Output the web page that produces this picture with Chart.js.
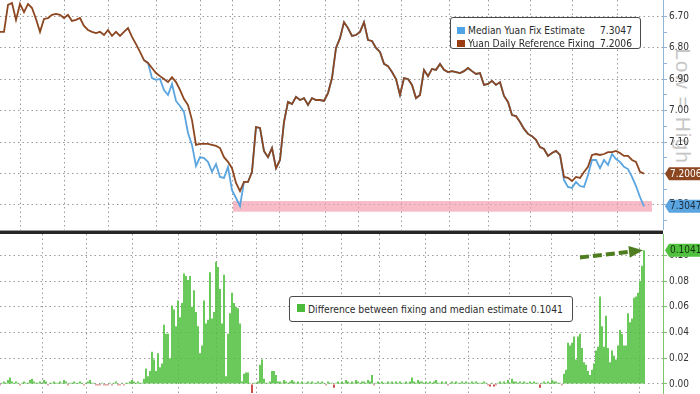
<!DOCTYPE html>
<html>
<head>
<meta charset="utf-8">
<script src="https://cdn.jsdelivr.net/npm/chart.js@4.4.0/dist/chart.umd.min.js"></script>
<style>
    html, body { margin: 0; padding: 0; background: #fff; }
    body {
        width: 700px; height: 394px; position: relative; overflow: hidden;
        font-family: "DejaVu Sans Condensed", "DejaVu Sans", sans-serif;
        font-stretch: condensed;
    }
    #watermark {
        position: absolute; left: 683px; top: 106px;
        transform: translate(-50%, -50%) rotate(90deg);
        font-family: "Liberation Sans", Arial, sans-serif; font-stretch: normal;
        color: #c6c6c6; font-size: 21px; letter-spacing: 1px; white-space: nowrap;
    }
    canvas { position: absolute; left: 0; }
    #topChart { top: 0; }
    #bottomChart { top: 234px; }
    .sep { position: absolute; left: 0; width: 663px; }
    .legend {
        position: absolute; box-sizing: border-box; background: #fff;
        border: 1px solid #4a4a4a; border-radius: 3px;
        font-size: 10px; color: #2b2b2b; line-height: 12px;
    }
    .legend .row { position: absolute; left: 0; right: 0; height: 12px; white-space: nowrap; }
    .legend .sw { position: absolute; top: 2px; width: 8px; height: 7px; }
    .legend .name { position: absolute; }
    .legend .val { position: absolute; right: 8px; }
</style>
</head>
<body>
<div id="watermark">Low = High</div>
<canvas id="topChart" width="700" height="230"></canvas>
<div class="sep" style="top:230px;height:1px;background:#9a9a9a"></div>
<div class="sep" style="top:231px;height:3px;background:#262626"></div>
<canvas id="bottomChart" width="700" height="160"></canvas>

<div class="legend" id="topLegend" style="left:450px;top:17px;width:191px;height:32px">
    <div class="row" style="top:7px">
        <span class="sw" style="left:6px;background:#4ea4e6"></span>
        <span class="name" id="lgEstimateName" style="left:17px">Median Yuan Fix Estimate</span>
        <span class="val" id="lgEstimate"></span>
    </div>
    <div class="row" style="top:20px">
        <span class="sw" style="left:6px;background:#9a3c14"></span>
        <span class="name" style="left:17px">Yuan Daily Reference Fixing</span>
        <span class="val" id="lgFixing"></span>
    </div>
</div>
<div class="legend" id="bottomLegend" style="left:289px;top:296px;width:284px;height:26px">
    <div class="row" style="top:6px">
        <span class="sw" style="left:7px;width:8px;height:8px;top:1px;background:#4cbb3c"></span>
        <span class="name" style="left:18px" id="lgDiff"></span>
    </div>
</div>

<script>
// ---- values ----
// x axis is in trading days, one day = 2px; gridlines at month starts
const monthStarts = [10, 32, 54, 78, 100, 116.5, 139.5, 162.5, 179, 200.5, 224.5, 244, 265, 286, 308.5];
const priceTicks = [6.70, 6.80, 6.90, 7.00, 7.10, 7.20, 7.30];
const diffTicks = [0.00, 0.02, 0.04, 0.06, 0.08, 0.10];
const lineStep = 2; // line samples every 2 trading days

const fixing = [
    6.749, 6.749, 6.663, 6.657, 6.711, 6.660, 6.686, 6.660, 6.673, 6.708,
    6.749, 6.708, 6.705, 6.695, 6.692, 6.695, 6.705, 6.695, 6.714, 6.711,
    6.705, 6.730, 6.743, 6.749, 6.753, 6.749, 6.759, 6.743, 6.762, 6.749,
    6.762, 6.749, 6.737, 6.765, 6.788, 6.813, 6.839, 6.848, 6.864, 6.880,
    6.890, 6.899, 6.909, 6.893, 6.909, 6.934, 6.963, 6.982, 7.030, 7.109,
    7.106, 7.106, 7.106, 7.109, 7.112, 7.119, 7.148, 7.163, 7.183, 7.230,
    7.256, 7.227, 7.227, 7.195, 7.052, 7.055, 7.128, 7.148, 7.119, 7.183,
    7.157, 7.036, 6.972, 6.979, 6.956, 6.966, 6.960, 6.982, 6.960, 6.966,
    6.966, 6.969, 6.944, 6.896, 6.800, 6.769, 6.718, 6.737, 6.762, 6.759,
    6.749, 6.718, 6.775, 6.778, 6.800, 6.813, 6.851, 6.858, 6.877, 6.899,
    6.950, 6.896, 6.899, 6.918, 6.960, 6.950, 6.870, 6.890, 6.867, 6.870,
    6.851, 6.870, 6.877, 6.874, 6.877, 6.880, 6.874, 6.864, 6.874, 6.883,
    6.880, 6.918, 6.915, 6.905, 6.918, 6.909, 6.953, 6.972, 7.014, 7.017,
    7.036, 7.058, 7.074, 7.081, 7.093, 7.116, 7.122, 7.144, 7.135, 7.128,
    7.141, 7.211, 7.214, 7.224, 7.211, 7.214, 7.195, 7.179, 7.141, 7.138,
    7.141, 7.138, 7.132, 7.132, 7.128, 7.135, 7.144, 7.144, 7.157, 7.163,
    7.195, 7.2006
];

const estimate = [
    null, null, null, null, null, null, null, null, null, null,
    null, null, null, null, null, null, null, null, null, null,
    null, null, null, null, null, null, null, null, null, null,
    null, null, null, null, null, null, 6.839, 6.848, 6.896, 6.902,
    6.899, 6.934, 6.950, 6.915, 6.969, 6.985, 7.004, 7.071, 7.109, 7.176,
    7.148, 7.151, 7.163, 7.195, 7.170, 7.211, 7.214, 7.179, 7.253, 7.278,
    7.304, 7.227, 7.227, 7.195, 7.052, 7.055, 7.130, 7.148, 7.119, 7.183,
    7.157, 7.036, 6.972, 6.979, 6.956, 6.966, 6.960, 6.982, 6.960, 6.966,
    6.966, 6.969, 6.944, 6.896, 6.800, 6.769, 6.718, 6.737, 6.762, 6.759,
    6.749, 6.718, 6.775, 6.778, 6.800, 6.813, 6.851, 6.858, 6.877, 6.899,
    6.950, 6.896, 6.899, 6.918, 6.960, 6.950, 6.870, 6.890, 6.867, 6.870,
    6.851, 6.870, 6.877, 6.874, 6.877, 6.880, 6.874, 6.864, 6.874, 6.883,
    6.880, 6.918, 6.915, 6.905, 6.918, 6.909, 6.953, 6.972, 7.014, 7.017,
    7.036, 7.058, 7.074, 7.081, 7.093, 7.116, 7.122, 7.144, 7.135, 7.128,
    7.141, 7.221, 7.243, 7.246, 7.227, 7.240, 7.243, 7.205, 7.157, 7.157,
    7.183, 7.157, 7.173, 7.138, 7.154, 7.163, 7.179, 7.186, 7.211, 7.240,
    7.275, 7.3047
];

// daily difference (estimate - fixing), one bar per trading day
const difference = [
    -0.001, 0.001, 0.002, 0.001, 0.003, 0.005, 0.002, 0.001, 0.002, 0.001,
    -0.001, 0.001, 0.002, 0.001, 0.001, 0.003, 0.004, 0.002, 0.001, 0.001,
    0.002, 0.001, 0.003, 0.002, -0.001, 0.001, 0.001, 0.002, 0.001, 0.001,
    0.002, 0.001, 0.003, 0.002, -0.001, 0.001, 0.001, 0.002, 0.001, 0.001,
    0.002, 0.001, -0.001, 0.001, 0.002, 0.003, 0.001, 0.001, -0.001, -0.001,
    -0.001, 0.001, -0.001, -0.001, -0.001, 0.001, -0.001, 0.001, 0.002, -0.001,
    -0.001, 0.001, -0.001, 0.001, 0.001, 0.002, 0.003, 0.002, 0.001, 0.002,
    0.001,
    0.001, 0.004, 0.012, 0.006, 0.010, 0.025, 0.019, 0.010, 0.024, 0.013,
    0.016, 0.046, 0.039, 0.039, 0.020, 0.061, 0.058, 0.045, 0.065, 0.052,
    0.063, 0.086, 0.084, 0.081, 0.084, 0.060, 0.073, 0.056, 0.045, 0.024,
    0.030, 0.065, 0.047, 0.050, 0.087, 0.051, 0.056, 0.095, 0.091, 0.074,
    0.047, 0.085, 0.006, 0.039, 0.055, 0.071, 0.063, 0.060, 0.059, 0.047,
    0.002, 0.008, 0.009, 0.009, 0.001, -0.007, 0.001, 0.001, 0.002, 0.015,
    0.019, 0.004, 0.001, 0.001, 0.002, 0.010, 0.010, 0.007, 0.002,
    0.002, 0.001, 0.003, 0.002, 0.001, 0.002, 0.003, 0.002, 0.001, 0.002,
    0.001, 0.002, 0.001, 0.001, 0.002, 0.001, 0.002, 0.001, 0.001, 0.002,
    0.001, 0.002, 0.001, -0.001, 0.002, 0.001, 0.001, -0.003, 0.001, 0.002,
    0.001, 0.002, 0.001, 0.003, 0.002, 0.001, 0.002, 0.001, 0.003, 0.002,
    0.001, 0.002, 0.002, 0.001, 0.003, 0.002, 0.007, -0.001, 0.001, 0.002,
    0.001, 0.002, 0.001, 0.001, 0.002, 0.001, 0.002, 0.001, 0.002, 0.001,
    0.002, 0.001, 0.001, 0.002, 0.001, 0.002, 0.005, 0.002, 0.001, 0.003,
    0.002, 0.002, 0.001, 0.002, 0.001, 0.002, 0.001, 0.002, 0.003, 0.001,
    0.001, 0.002, 0.001, 0.002, -0.001, 0.001, 0.002, 0.001, 0.002, 0.001,
    0.001, 0.002, 0.001, 0.002, 0.001, 0.001, 0.002, 0.001, 0.002, 0.001,
    0.001, 0.001, 0.002, 0.001, -0.001, -0.002, 0.001, -0.002, -0.001, 0.001,
    0.002, 0.001, 0.002, 0.001, 0.003, 0.001, 0.004, 0.002, 0.002, 0.001,
    0.002, 0.001, 0.002, 0.001, 0.001, 0.002, 0.001, 0.002, 0.001, 0.001,
    -0.003, 0.001, 0.002, 0.001, 0.002, 0.001, 0.003, 0.002,
    0.002, 0.001, 0.001, -0.001, 0.008, 0.011, 0.032, 0.030, 0.032, 0.037,
    0.019, 0.037, 0.039, 0.028, 0.017, 0.015, 0.010, 0.007, 0.011, 0.016,
    0.026, 0.029, 0.068, 0.045, 0.029, 0.053, 0.028, 0.017, 0.026, 0.022,
    0.019, 0.030, 0.042, 0.039, 0.030, 0.030, 0.055, 0.048, 0.051, 0.067,
    0.068, 0.071, 0.080, 0.092, 0.1041
];

const lastEstimate = 7.3047;
const lastFixing = 7.2006;
const lastDiff = 0.1041;

// pink band at the estimate level, and the green arrow in the lower panel
const bandFrom = 116.5, bandTo = 326, bandHalf = 0.017;
const arrowFrom = [290, 0.0985], arrowTo = [321.5, 0.1040];

// ---- colours ----
const BROWN = '#8c4620';
const BLUE = '#5aa5df';
const GREEN = '#50c03e';
const RED = '#c3302a';
const GRID = '#9a9a9a';
const FONT = '"DejaVu Sans Condensed", "DejaVu Sans", sans-serif';

document.getElementById('lgEstimate').textContent = lastEstimate.toFixed(4);
document.getElementById('lgFixing').textContent = lastFixing.toFixed(4);
document.getElementById('lgDiff').textContent =
    'Difference between fixing and median estimate ' + lastDiff.toFixed(4);

// size the legend font so the text runs as wide as in the reference
const fitLegend = (box, sample, target) => {
    const w = sample.getBoundingClientRect().width;
    const size = parseFloat(getComputedStyle(sample).fontSize);
    if (w > 0) box.style.fontSize = (size * target / w).toFixed(2) + 'px';
};
fitLegend(document.getElementById('topLegend'), document.getElementById('lgEstimateName'), 117);
fitLegend(document.getElementById('bottomLegend'), document.getElementById('lgDiff'), 255);

const near = (a, b) => Math.abs(a - b) < 1e-6;

const drawTag = (ctx, left, y, text, bg, fg) => {
    const h = 13, tip = 4;
    ctx.save();
    ctx.beginPath();
    ctx.moveTo(left, y);
    ctx.lineTo(left + tip, y - h / 2);
    ctx.lineTo(700, y - h / 2);
    ctx.lineTo(700, y + h / 2);
    ctx.lineTo(left + tip, y + h / 2);
    ctx.closePath();
    ctx.fillStyle = bg;
    ctx.fill();
    ctx.fillStyle = fg;
    ctx.font = '10px ' + FONT;
    ctx.textAlign = 'left';
    ctx.textBaseline = 'middle';
    ctx.fillText(text, left + tip + 1, y + 0.5);
    ctx.restore();
};

const noPadding = (scale) => {
    scale.paddingTop = 0;
    scale.paddingBottom = 0;
    scale.paddingLeft = 0;
    scale.paddingRight = 0;
};

const monthAxis = {
    type: 'linear',
    min: 0,
    max: 331.5,
    ticks: { display: false },
    grid: { color: GRID, lineWidth: 1, drawTicks: false },
    border: { display: false, dash: [1.5, 3] },
    afterBuildTicks: (scale) => { scale.ticks = monthStarts.map(v => ({ value: v })); },
    afterFit: (scale) => { scale.height = 0; noPadding(scale); }
};

const valueAxis = (majors, step, min, max, reverse, axisColor, digits) => ({
    type: 'linear',
    position: 'right',
    min: min,
    max: max,
    reverse: reverse,
    afterBuildTicks: (scale) => {
        const all = majors.concat(majors.map(v => v + step / 2))
            .filter(v => v > min && v < max)
            .sort((a, b) => a - b);
        scale.ticks = all.map(v => ({ value: v }));
    },
    afterFit: (scale) => { scale.width = 37; noPadding(scale); },
    ticks: {
        padding: 2,
        color: '#333',
        font: { family: FONT, size: 10 },
        callback: (v) => majors.some(t => near(t, v)) ? v.toFixed(digits) : ''
    },
    grid: {
        color: (c) => (c.tick && majors.some(t => near(t, c.tick.value))) ? GRID : 'rgba(0,0,0,0)',
        tickColor: axisColor,
        tickLength: 4,
        tickBorderDash: []
    },
    border: { display: true, color: axisColor, width: 1, dash: [1.5, 3] }
});

const topPlugin = {
    id: 'topExtras',
    beforeDatasetsDraw(chart) {
        const { ctx, scales: { x, y } } = chart;
        const x0 = x.getPixelForValue(bandFrom);
        const x1 = x.getPixelForValue(bandTo);
        const y0 = y.getPixelForValue(lastEstimate - bandHalf);
        const y1 = y.getPixelForValue(lastEstimate + bandHalf);
        ctx.save();
        ctx.fillStyle = 'rgba(244, 160, 175, 0.7)';
        ctx.fillRect(x0, Math.min(y0, y1), x1 - x0, Math.abs(y1 - y0));
        ctx.restore();
    },
    afterDraw(chart) {
        const { ctx, chartArea, scales: { y } } = chart;
        drawTag(ctx, chartArea.right + 2, y.getPixelForValue(lastFixing), lastFixing.toFixed(4), BROWN, '#fff');
        drawTag(ctx, chartArea.right + 2, y.getPixelForValue(lastEstimate), lastEstimate.toFixed(4), BLUE, '#1b2a3a');
    }
};

const bottomPlugin = {
    id: 'bottomExtras',
    afterDatasetsDraw(chart) {
        const { ctx, scales: { x, y } } = chart;
        const ax = x.getPixelForValue(arrowFrom[0]), ay = y.getPixelForValue(arrowFrom[1]);
        const tx = x.getPixelForValue(arrowTo[0]), ty = y.getPixelForValue(arrowTo[1]);
        const len = Math.hypot(tx - ax, ty - ay);
        const ux = (tx - ax) / len, uy = (ty - ay) / len;
        const head = 14, half = 6;
        const bx = tx - ux * head, by = ty - uy * head;
        ctx.save();
        ctx.strokeStyle = '#4d7d1e';
        ctx.fillStyle = '#4d7d1e';
        ctx.lineWidth = 4;
        ctx.setLineDash([9, 4]);
        ctx.beginPath();
        ctx.moveTo(ax, ay);
        ctx.lineTo(bx, by);
        ctx.stroke();
        ctx.setLineDash([]);
        ctx.beginPath();
        ctx.moveTo(tx, ty);
        ctx.lineTo(bx - uy * half, by + ux * half);
        ctx.lineTo(bx + uy * half, by - ux * half);
        ctx.closePath();
        ctx.fill();
        ctx.restore();
    },
    afterDraw(chart) {
        const { ctx, chartArea, scales: { y } } = chart;
        drawTag(ctx, chartArea.right + 2, y.getPixelForValue(lastDiff), lastDiff.toFixed(4), GREEN, '#12300c');
    }
};

new Chart(document.getElementById('topChart'), {
    type: 'line',
    data: {
        datasets: [{
            label: 'Yuan Daily Reference Fixing',
            data: fixing.map((v, i) => ({ x: i * lineStep, y: v })),
            borderColor: BROWN,
            borderWidth: 1.8,
            pointRadius: 0,
            tension: 0
        }, {
            label: 'Median Yuan Fix Estimate',
            data: estimate.map((v, i) => ({ x: i * lineStep, y: v })),
            borderColor: BLUE,
            borderWidth: 1.8,
            pointRadius: 0,
            tension: 0,
            spanGaps: false
        }]
    },
    options: {
        responsive: false,
        devicePixelRatio: 1,
        animation: false,
        layout: { padding: 0 },
        plugins: { legend: { display: false }, tooltip: { enabled: false } },
        scales: {
            x: monthAxis,
            y: valueAxis(priceTicks, 0.1, 6.6475, 7.38, true, '#8fb6da', 2)
        }
    },
    plugins: [topPlugin]
});

new Chart(document.getElementById('bottomChart'), {
    type: 'bar',
    data: {
        datasets: [{
            label: 'Difference between fixing and median estimate',
            data: difference.map((v, i) => ({ x: i, y: v })),
            backgroundColor: (c) => (c.raw && c.raw.y < 0) ? RED : GREEN,
            borderWidth: 0,
            barPercentage: 0.85,
            categoryPercentage: 1
        }]
    },
    options: {
        responsive: false,
        devicePixelRatio: 1,
        animation: false,
        layout: { padding: 0 },
        plugins: { legend: { display: false }, tooltip: { enabled: false } },
        scales: {
            x: Object.assign({}, monthAxis, { offset: false }),
            y: valueAxis(diffTicks, 0.02, -0.0078, 0.1167, false, '#7cc46a', 2)
        }
    },
    plugins: [bottomPlugin]
});
</script>
</body>
</html>
